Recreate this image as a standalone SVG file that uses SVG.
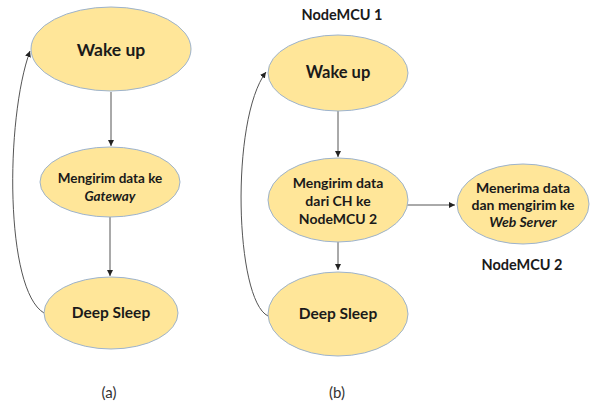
<svg xmlns="http://www.w3.org/2000/svg" width="595" height="405" viewBox="0 0 595 405">
<defs>
<style>
.n{fill:#FFE699;stroke:#9DB3CC;stroke-width:1}
.t{font-family:Lato,"Open Sans","Liberation Sans",sans-serif;font-weight:bold;fill:#1a1a1a;text-anchor:middle}
.c{fill:none;stroke:#555;stroke-width:1}
.cap{font-family:Lato,"Liberation Sans",sans-serif;font-size:15px;fill:#333;text-anchor:middle}
</style>
<marker id="ah" markerWidth="8" markerHeight="8" refX="6" refY="3" orient="auto" markerUnits="userSpaceOnUse">
<path d="M0,0 L6,3 L0,6 Z" fill="#222"/>
</marker>
</defs>
<rect width="595" height="405" fill="#fff"/>
<g id="connectors">
<path class="c" d="M111,92 L111,146" marker-end="url(#ah)"/>
<path class="c" d="M110,217 L110,276" marker-end="url(#ah)"/>
<path class="c" d="M44,313 C5,290 5,120 30,51" marker-end="url(#ah)"/>
<path class="c" d="M338,111 L338,157" marker-end="url(#ah)"/>
<path class="c" d="M338,242 L338,270" marker-end="url(#ah)"/>
<path class="c" d="M268,316 C235,300 230,120 266,72" marker-end="url(#ah)"/>
<path class="c" d="M407,205 L455,205" marker-end="url(#ah)"/>
</g>
<g id="a_wake">
<ellipse class="n" cx="111" cy="49" rx="80" ry="42"/>
<text class="t" x="111" y="56" font-size="17.5">Wake up</text>
</g>
<g id="a_send">
<ellipse class="n" cx="110" cy="182" rx="70" ry="35"/>
<text class="t" x="110" y="183" font-size="13.5">Mengirim data ke</text>
<text class="t" x="110" y="201" font-size="13.5" font-style="italic">Gateway</text>
</g>
<g id="a_sleep">
<ellipse class="n" cx="111" cy="313" rx="67" ry="36"/>
<text class="t" x="111" y="318" font-size="15.5">Deep Sleep</text>
</g>
<text class="cap" x="109" y="398">(a)</text>
<text class="t" x="342" y="20" font-size="14.5">NodeMCU 1</text>
<g id="b_wake">
<ellipse class="n" cx="338" cy="73" rx="70" ry="38"/>
<text class="t" x="338" y="78" font-size="16.5">Wake up</text>
</g>
<g id="b_send">
<ellipse class="n" cx="338" cy="200" rx="70" ry="42"/>
<text class="t" x="338" y="188" font-size="14">Mengirim data</text>
<text class="t" x="338" y="206" font-size="14">dari CH ke</text>
<text class="t" x="338" y="224" font-size="14">NodeMCU 2</text>
</g>
<g id="b_sleep">
<ellipse class="n" cx="338" cy="314" rx="70" ry="42"/>
<text class="t" x="338" y="319" font-size="15.5">Deep Sleep</text>
</g>
<g id="b_recv">
<ellipse class="n" cx="523" cy="204" rx="66" ry="40"/>
<text class="t" x="523" y="193" font-size="14">Menerima data</text>
<text class="t" x="523" y="210" font-size="14">dan mengirim ke</text>
<text class="t" x="523" y="227" font-size="14" font-style="italic">Web Server</text>
</g>
<text class="t" x="522" y="270" font-size="14.5">NodeMCU 2</text>
<text class="cap" x="337" y="398">(b)</text>
</svg>
